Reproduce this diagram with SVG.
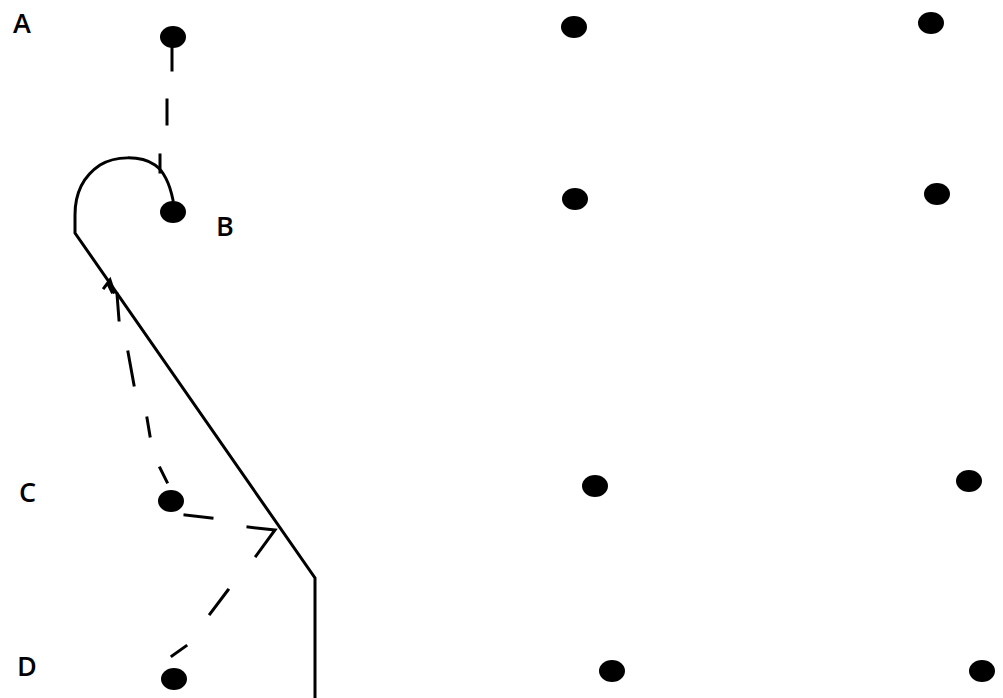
<svg xmlns="http://www.w3.org/2000/svg" width="1003" height="698" viewBox="0 0 1003 698">
<style>
.dot{fill:#000}
.lbl{font-family:"Open Sans","Liberation Sans",sans-serif;font-size:27px;font-weight:600;fill:#000}
.ln{fill:none;stroke:#000;stroke-width:3;stroke-linecap:square}
</style>
<rect width="1003" height="698" fill="#fff"/>
<g id="nodeA"><ellipse class="dot" cx="173" cy="37" rx="13" ry="11"/><text class="lbl" x="13" y="33">A</text></g>
<g id="nodeB"><ellipse class="dot" cx="173" cy="212" rx="13" ry="11"/><text class="lbl" x="216" y="236">B</text></g>
<g id="nodeC"><ellipse class="dot" cx="171" cy="501" rx="13" ry="11"/><text class="lbl" x="19" y="502">C</text></g>
<g id="nodeD"><ellipse class="dot" cx="174" cy="679" rx="13" ry="11"/><text class="lbl" x="17" y="676">D</text></g>
<g id="p12"><ellipse class="dot" cx="574" cy="27" rx="13" ry="11"/></g>
<g id="p13"><ellipse class="dot" cx="931" cy="23" rx="13" ry="11"/></g>
<g id="p22"><ellipse class="dot" cx="575" cy="199" rx="13" ry="11"/></g>
<g id="p23"><ellipse class="dot" cx="937" cy="194" rx="13" ry="11"/></g>
<g id="p32"><ellipse class="dot" cx="595" cy="486" rx="13" ry="11"/></g>
<g id="p33"><ellipse class="dot" cx="969" cy="481" rx="13" ry="11"/></g>
<g id="p42"><ellipse class="dot" cx="612" cy="671" rx="13" ry="11"/></g>
<g id="p43"><ellipse class="dot" cx="982" cy="671" rx="13" ry="11"/></g>
<g id="connectors">
<path class="ln" d="M172 45 V70 M167 100 V124 M160 155 V172"/>
<path class="ln" d="M173 200 C170 185 165 172 155 165 C140 155 115 156 100 165 C82 177 75 195 75 215 V233 L315 578 V698"/>
<path class="ln" d="M108 284 L112 292 M117 294 L119 320 M128 352 L134 385 M147 418 L150 436 M160 468 L167 482"/>
<path class="ln" d="M104 288 L110 280 L114 292"/>
<path class="ln" d="M185 515 L212 518"/>
<path class="ln" d="M248 527 L275 530 L256 556"/>
<path class="ln" d="M210 614 L228 590 M172 656 L186 646"/>
</g>
</svg>
